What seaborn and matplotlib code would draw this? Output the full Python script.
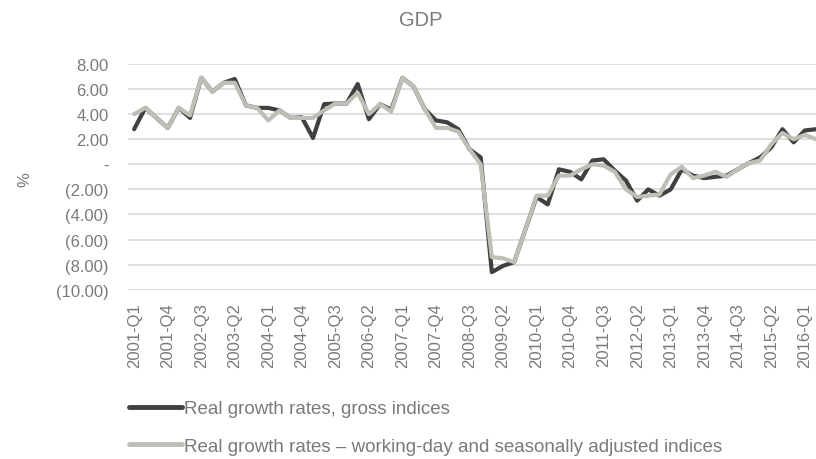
import matplotlib
matplotlib.use("Agg")
import matplotlib.pyplot as plt
from matplotlib.ticker import FuncFormatter
import seaborn as sns
import pandas as pd
import numpy as np

# quarters 2001-Q1 .. 2016-Q2
quarters = [f"{y}-Q{q}" for y in range(2001, 2017) for q in range(1, 5)][:62]

gross = [2.8, 4.5, 3.7, 2.9, 4.5, 3.7, 6.9, 5.8, 6.5, 6.8,
         4.7, 4.5, 4.5, 4.3, 3.7, 3.75, 2.1, 4.8, 4.85, 4.85,
         6.4, 3.6, 4.8, 4.35, 6.9, 6.2, 4.4, 3.5, 3.35, 2.8,
         1.2, 0.55, -8.6, -8.1, -7.8, -5.2, -2.6, -3.2, -0.4, -0.6,
         -1.2, 0.3, 0.4, -0.5, -1.3, -2.9, -2.0, -2.5, -2.0, -0.4,
         -0.9, -1.1, -1.0, -0.9, -0.4, 0.1, 0.55, 1.35, 2.8, 1.75,
         2.7, 2.8]
adjusted = [4.0, 4.5, 3.7, 2.9, 4.5, 3.9, 6.9, 5.8, 6.5, 6.5,
            4.7, 4.5, 3.5, 4.3, 3.7, 3.7, 3.7, 4.3, 4.85, 4.85,
            5.7, 4.0, 4.8, 4.2, 6.9, 6.2, 4.4, 2.9, 2.9, 2.6,
            1.2, 0.0, -7.4, -7.5, -7.8, -5.2, -2.5, -2.5, -0.9, -0.9,
            -0.4, 0.0, -0.1, -0.6, -2.0, -2.6, -2.5, -2.4, -0.8, -0.2,
            -1.1, -0.9, -0.6, -1.0, -0.4, 0.1, 0.3, 1.6, 2.5, 2.0,
            2.35, 2.0]

series_names = ["Real growth rates, gross indices",
                "Real growth rates \u2013 working-day and seasonally adjusted indices"]
colors = ["#404040", "#bfbfb8"]

df = pd.DataFrame({
    "idx": list(range(len(quarters))) * 2,
    "value": gross + adjusted,
    "series": [series_names[0]] * len(gross) + [series_names[1]] * len(adjusted),
})

sns.set_style("white")
plt.rcParams['font.family'] = ['Liberation Sans', 'DejaVu Sans']
grey = "#7a7a7a"

fig = plt.figure(figsize=(8.16, 4.6), dpi=100)
ax = fig.add_axes([128 / 816, 1 - 290.7 / 460, 1 - 128 / 816, (290.7 - 65) / 460])

sns.lineplot(data=df, x="idx", y="value", hue="series", palette=colors,
             linewidth=3, ax=ax, sort=False)

ax.set_xlim(-0.55, 61.0)
ax.set_ylim(-10, 8)
ax.set_yticks(np.arange(-10, 9, 2))

def acct(v, pos):
    if abs(v) < 1e-9:
        return "-"
    if v < 0:
        return f"({abs(v):.2f})"
    return f"{v:.2f}"

ax.yaxis.set_major_formatter(FuncFormatter(acct))
tick_pos = list(range(0, len(quarters), 3))
ax.set_xticks(tick_pos)
ax.set_xticklabels([quarters[i] for i in tick_pos], rotation=90)
ax.tick_params(axis="both", length=0, colors=grey, labelsize=12)
ax.tick_params(axis="y", pad=14)
ax.tick_params(axis="x", pad=9)
ax.grid(axis="y", color="#d9d9d9", linewidth=1.2)
ax.set_axisbelow(True)
for sp in ax.spines.values():
    sp.set_visible(False)
ax.set_xlabel("")
ax.set_ylabel("")

fig.text(421 / 816, 1 - 20 / 460, "GDP", ha="center", va="center", color=grey, fontsize=14.5)
fig.text(25 / 816, 1 - 180 / 460, "%", ha="center", va="center", rotation=90,
         color=grey, fontsize=12)

handles, labels = ax.get_legend_handles_labels()
for h in handles:
    h.set_linewidth(3.5)
ax.legend(handles, labels, loc="upper left", bbox_to_anchor=(129 / 816, 1 - 401 / 460),
          bbox_transform=fig.transFigure, frameon=False, fontsize=13.5,
          handlelength=2.83, handletextpad=0.1, labelspacing=1.1, labelcolor=grey,
          borderaxespad=0, borderpad=0)

fig.savefig("out.png", dpi=100)
